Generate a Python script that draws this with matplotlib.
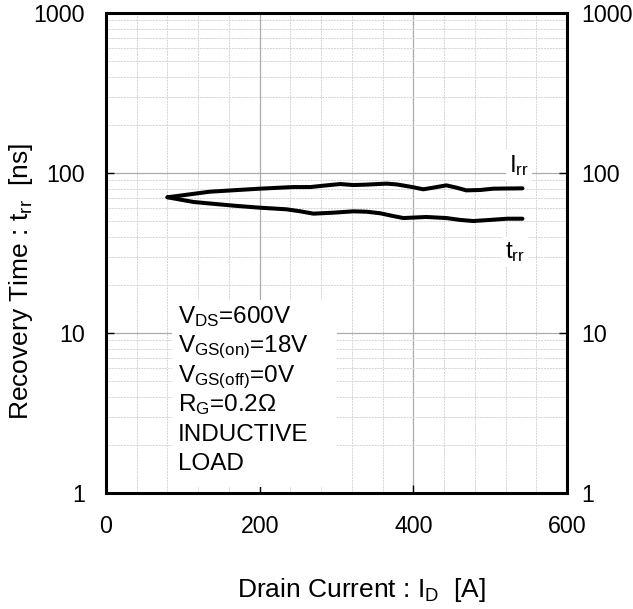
import numpy as np
import matplotlib
matplotlib.use("Agg")
import matplotlib.pyplot as plt
import matplotlib.transforms as mtransforms
from matplotlib.patches import Rectangle
from matplotlib.ticker import FixedLocator, NullFormatter

plt.rcParams["font.family"] = ["Liberation Sans", "DejaVu Sans"]
plt.rcParams["mathtext.fontset"] = "custom"
plt.rcParams["mathtext.rm"] = "Liberation Sans"
plt.rcParams["mathtext.it"] = "Liberation Sans:italic"

# ── data ────────────────────────────────────────────────────
irr_x = [80, 135, 200, 244, 266, 287, 305, 322, 339, 365, 378, 396,
         413, 426, 443, 456, 469, 487, 504, 542]
irr_y = [70.5, 76.4, 79.8, 81.7, 81.7, 83.7, 85.3, 84.1, 84.6, 85.8, 84.9, 82.1,
         79.1, 81.0, 83.7, 81.0, 77.9, 78.3, 79.8, 80.2]

trr_x = [80, 114, 166, 200, 235, 253, 270, 296, 322, 339, 357, 374,
         387, 417, 443, 461, 478, 500, 522, 542]
trr_y = [70.5, 65.9, 62.5, 60.7, 59.3, 57.6, 55.7, 56.5, 57.6, 57.3, 56.0, 53.8,
         52.3, 53.1, 52.3, 50.9, 50.1, 50.9, 51.8, 51.8]

x_ticks = [0, 200, 400, 600]
y_ticks = [1, 10, 100, 1000]
conditions = [
    r"V$_{\mathrm{DS}}$=600V",
    r"V$_{\mathrm{GS(on)}}$=18V",
    r"V$_{\mathrm{GS(off)}}$=0V",
    r"R$_{\mathrm{G}}$=0.2$\Omega$",
    "INDUCTIVE",
    "LOAD",
]

FS_TICK = 16.7
FS_TEXT = 17.5
FS_LABEL = 19

W, H = 633, 609
L, R, T, B = 106, 567, 13, 493   # axes box in pixels


def ax_frac(px, py):
    return (px - L) / (R - L), (B - py) / (B - T)


fig = plt.figure(figsize=(W / 100, H / 100), dpi=100)
fig.patch.set_facecolor("white")
ax = fig.add_axes([L / W, 1 - B / H, (R - L) / W, (B - T) / H])

ax.set_xlim(0, 600)
ax.set_yscale("log")
ax.set_ylim(1, 1000)

# grid
ax.xaxis.set_major_locator(FixedLocator(x_ticks))
ax.xaxis.set_minor_locator(FixedLocator(np.arange(40, 600, 40)))
ax.yaxis.set_major_locator(FixedLocator(y_ticks))
ax.yaxis.set_minor_locator(FixedLocator(
    [m * d for d in (1, 10, 100) for m in range(2, 10)]))
ax.yaxis.set_minor_formatter(NullFormatter())
ax.grid(True, which="major", color="#ababab", lw=0.9, zorder=0)
ax.grid(True, which="minor", color="#d4d4d4", lw=0.7, ls=(0, (2, 1)), zorder=0)
ax.set_axisbelow(True)

ax.set_xticklabels([str(v) for v in x_ticks])
ax.set_yticklabels([str(v) for v in y_ticks])
ax.tick_params(which="major", direction="in", length=6, width=1,
               labelsize=FS_TICK, right=True, labelright=True)
ax.tick_params(axis="x", which="major", pad=16)
ax.tick_params(axis="y", which="major", pad=15)
ax.tick_params(which="minor", length=0)
# right side labels sit closer to the frame
for t in ax.yaxis.get_major_ticks():
    t.label2.set_transform(ax.get_yaxis_transform(which="tick2")
                           + mtransforms.ScaledTranslation(14 / 100, 0, fig.dpi_scale_trans))

for s in ax.spines.values():
    s.set_linewidth(2.2)

# curves
ax.plot(irr_x, irr_y, color="black", lw=2.9, zorder=3,
        solid_joinstyle="round", solid_capstyle="round")
ax.plot(trr_x, trr_y, color="black", lw=2.9, zorder=3,
        solid_joinstyle="round", solid_capstyle="round")

# curve labels
for txt, px, py in [(r"I$_{\mathrm{rr}}$", 509, 172), (r"t$_{\mathrm{rr}}$", 505, 258)]:
    fx, fy = ax_frac(px, py)
    ax.text(fx, fy, txt, transform=ax.transAxes, fontsize=FS_TEXT,
            ha="left", va="baseline", zorder=4,
            bbox=dict(facecolor="white", edgecolor="none", pad=2))

# conditions box
x0, y0 = ax_frac(172, 487)
x1, y1 = ax_frac(337, 300)
ax.add_patch(Rectangle((x0, y0), x1 - x0, y1 - y0, transform=ax.transAxes,
                       facecolor="white", edgecolor="none", zorder=2))
for i, line in enumerate(conditions):
    fx, fy = ax_frac(178, 323 + i * 29.4)
    ax.text(fx, fy, line, transform=ax.transAxes,
            fontsize=FS_TEXT, ha="left", va="baseline", zorder=4)

# axis labels
fig.text(21 / W, 1 - 281 / H, r"Recovery Time : t$_{\mathrm{rr}}$  [ns]",
         rotation=90, fontsize=FS_LABEL, ha="center", va="center")
fig.text(361 / W, 1 - 590 / H, r"Drain Current : I$_{\mathrm{D}}$  [A]",
         fontsize=FS_LABEL, ha="center", va="center")

fig.savefig("out.png", dpi=100, facecolor="white")
